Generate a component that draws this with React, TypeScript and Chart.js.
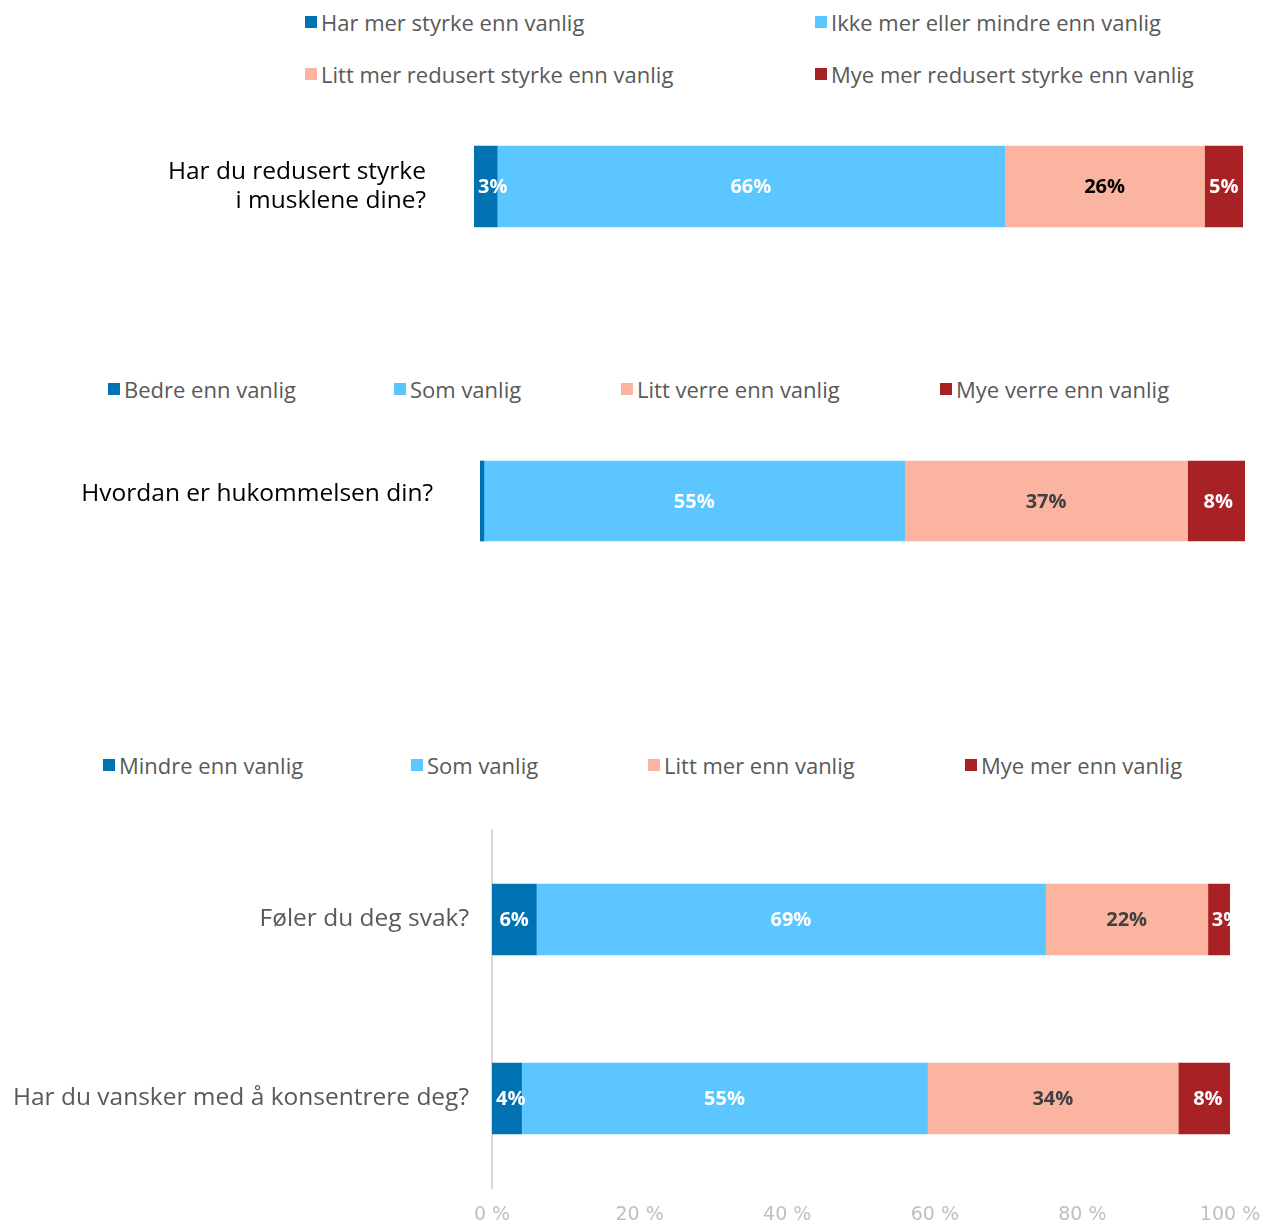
import React, { useEffect, useRef } from "react";
import { Chart, registerables } from "chart.js";

Chart.register(...registerables);

// ---------- DATA ----------
const muscleCategories = [["Har du redusert styrke", "i musklene dine?"]];
const muscleLegend = [
  "Har mer styrke enn vanlig",
  "Ikke mer eller mindre enn vanlig",
  "Litt mer redusert styrke enn vanlig",
  "Mye mer redusert styrke enn vanlig",
];
const muscleMore = [3];
const muscleSame = [66];
const muscleLittle = [26];
const muscleMuch = [5];

const memoryCategories = ["Hvordan er hukommelsen din?"];
const memoryLegend = ["Bedre enn vanlig", "Som vanlig", "Litt verre enn vanlig", "Mye verre enn vanlig"];
const memoryBetter = [0.5];
const memorySame = [55];
const memoryLittle = [37];
const memoryMuch = [8];

const generalCategories = ["Føler du deg svak?", "Har du vansker med å konsentrere deg?"];
const generalLegend = ["Mindre enn vanlig", "Som vanlig", "Litt mer enn vanlig", "Mye mer enn vanlig"];
const generalLess = [6, 4];
const generalSame = [69, 55];
const generalLittle = [22, 34];
const generalMuch = [3, 8];

const axisTicks = [0, 20, 40, 60, 80, 100];

// ---------- STYLE ----------
const seriesColors = ["#0072B2", "#5BC6FF", "#FAB4A0", "#A82125"];
const FONT = "'Open Sans', 'Liberation Sans', Arial, sans-serif";

const valueLabelPlugin = {
  id: "valueLabels",
  afterDatasetsDraw(chart: any, _args: any, opts: any) {
    const ctx = chart.ctx;
    const area = chart.chartArea;
    ctx.save();
    ctx.beginPath();
    ctx.rect(0, area.top, area.right, area.bottom - area.top);
    ctx.clip();
    ctx.font = "bold 20px 'Open Sans', 'Liberation Sans', Arial, sans-serif";
    ctx.textAlign = "center";
    ctx.textBaseline = "middle";
    chart.data.datasets.forEach((ds: any, i: number) => {
      const meta = chart.getDatasetMeta(i);
      meta.data.forEach((bar: any, j: number) => {
        const v = ds.data[j];
        if (v < 2) return;
        const p = bar.getProps(["x", "y", "base"], true);
        const text = Math.round(v) + "%";
        const w = ctx.measureText(text).width;
        const start = Math.min(p.x, p.base);
        const len = Math.abs(p.x - p.base);
        let cx = start + len / 2;
        if (w + 6 > len) cx = start + 4 + w / 2;
        ctx.fillStyle = (opts.colors || [])[i] || "#fff";
        ctx.fillText(text, cx, p.y + 1);
      });
    });
    ctx.restore();
  },
};

function makeDatasets(legend: string[], series: number[][], thickness: number) {
  return legend.map((label, i) => ({
    label,
    data: series[i],
    backgroundColor: seriesColors[i],
    borderWidth: 0,
    barThickness: thickness,
  }));
}

type ChartBoxProps = {
  top: number;
  height: number;
  config: any;
};

function ChartBox({ top, height, config }: ChartBoxProps) {
  const ref = useRef<HTMLCanvasElement>(null);
  useEffect(() => {
    if (!ref.current) return;
    const chart = new Chart(ref.current, config);
    return () => chart.destroy();
  }, []);
  return (
    <div style={{ position: "absolute", left: 0, top, width: 1261, height }}>
      <canvas ref={ref} />
    </div>
  );
}

function Legend({ items, xs, ys }: { items: string[]; xs: number[]; ys: number[] }) {
  return (
    <>
      {items.map((t, i) => (
        <div
          key={t}
          style={{
            position: "absolute",
            left: xs[i],
            top: ys[i] - 16,
            height: 30,
            display: "flex",
            alignItems: "center",
            whiteSpace: "nowrap",
            fontFamily: FONT,
            fontSize: 22,
            color: "#595959",
          }}
        >
          <span style={{ display: "inline-block", width: 12, height: 12, background: seriesColors[i], marginRight: 4 }} />
          {t}
        </div>
      ))}
    </>
  );
}

const noVerticalPad = (s: any, width: number) => {
  s.width = width;
  s.paddingTop = 0;
  s.paddingBottom = 0;
};

function topConfig(categories: any[], legend: string[], series: number[][], thickness: number, left: number, right: number, pad: number, shift: number, labelColors: string[]) {
  return {
    type: "bar",
    data: { labels: categories, datasets: makeDatasets(legend, series, thickness) },
    plugins: [valueLabelPlugin],
    options: {
      indexAxis: "y",
      animation: false,
      responsive: true,
      maintainAspectRatio: false,
      layout: { padding: { left: 0, right: 1261 - right, top: 0, bottom: 0 } },
      plugins: {
        legend: { display: false },
        tooltip: { enabled: false },
        valueLabels: { colors: labelColors },
      },
      scales: {
        x: { stacked: true, min: 0, max: 100, display: false },
        y: {
          stacked: true,
          grid: { display: false },
          border: { display: false },
          ticks: { color: "#000", font: { family: FONT, size: 24.5 }, padding: pad, labelOffset: shift },
          afterFit: (s: any) => noVerticalPad(s, left),
        },
      },
    },
  };
}

const muscleConfig = topConfig(
  muscleCategories,
  muscleLegend,
  [muscleMore, muscleSame, muscleLittle, muscleMuch],
  81,
  474,
  1243,
  40,
  0,
  ["#fff", "#fff", "#000", "#fff"]
);

const memoryConfig = topConfig(
  memoryCategories,
  memoryLegend,
  [memoryBetter, memorySame, memoryLittle, memoryMuch],
  80,
  480,
  1245,
  39,
  -7,
  ["#fff", "#fff", "#404040", "#fff"]
);

const generalConfig = {
  type: "bar",
  data: {
    labels: generalCategories,
    datasets: makeDatasets(generalLegend, [generalLess, generalSame, generalLittle, generalMuch], 71),
  },
  plugins: [valueLabelPlugin],
  options: {
    indexAxis: "y",
    animation: false,
    responsive: true,
    maintainAspectRatio: false,
    layout: { padding: { left: 0, right: 31, top: 10, bottom: 0 } },
    plugins: {
      legend: { display: false },
      tooltip: { enabled: false },
      valueLabels: { colors: ["#fff", "#fff", "#404040", "#fff"] },
    },
    scales: {
      x: {
        stacked: true,
        min: 0,
        max: 100,
        grid: { display: false },
        border: { display: false },
        afterBuildTicks: (s: any) => {
          s.ticks = axisTicks.map((v) => ({ value: v }));
        },
        ticks: {
          color: "#BFBFBF",
          font: { family: "'DejaVu Sans', Verdana, sans-serif", size: 19 },
          padding: 8,
          maxRotation: 0,
          callback: (v: any) => v + " %",
        },
        afterFit: (s: any) => {
          s.height = 36;
          s.paddingLeft = 0;
          s.paddingRight = 0;
        },
      },
      y: {
        stacked: true,
        grid: { display: false },
        border: { display: true, color: "#D9D9D9", width: 2 },
        ticks: { color: "#595959", font: { family: FONT, size: 24.5 }, padding: 15 },
        afterFit: (s: any) => noVerticalPad(s, 492),
      },
    },
  },
};

export default function App() {
  return (
    <div style={{ position: "absolute", left: 0, top: 0, width: 1261, height: 1224, background: "#fff", overflow: "hidden" }}>
      <Legend items={muscleLegend} xs={[305, 815, 305, 815]} ys={[23, 23, 75, 75]} />
      <ChartBox top={130} height={113} config={muscleConfig} />
      <Legend items={memoryLegend} xs={[108, 394, 621, 940]} ys={[390, 390, 390, 390]} />
      <ChartBox top={445} height={112} config={memoryConfig} />
      <Legend items={generalLegend} xs={[103, 411, 648, 965]} ys={[766, 766, 766, 766]} />
      <ChartBox top={820} height={404} config={generalConfig} />
    </div>
  );
}
